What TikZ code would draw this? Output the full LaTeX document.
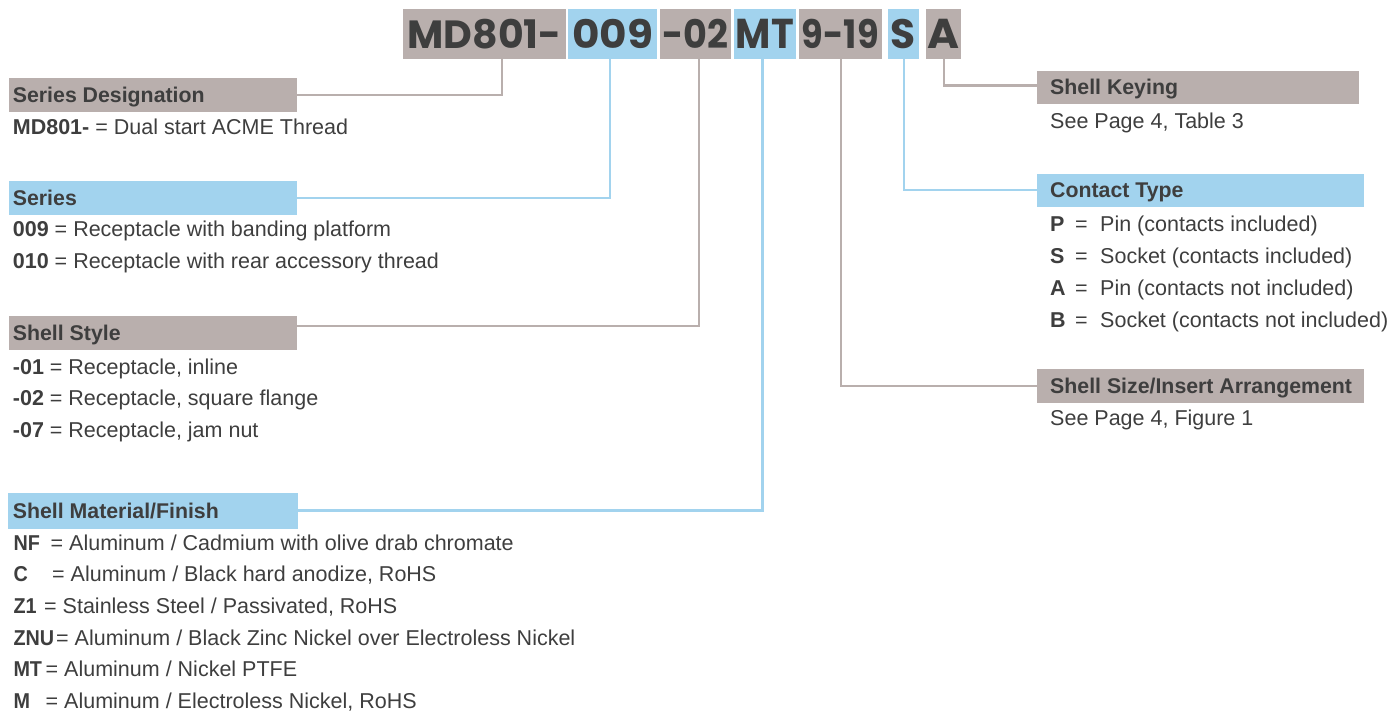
\documentclass[tikz,border=0pt]{standalone}
\usepackage{fontspec}
\setmainfont{Liberation Sans}
\newfontfamily\codefont{Poppins}
\definecolor{gbox}{RGB}{185,175,173}
\definecolor{bbox}{RGB}{162,211,238}
\definecolor{ink}{RGB}{62,62,62}
\newcommand{\hfnt}{\fontsize{21.3}{25}\selectfont\bfseries}
\newcommand{\bfnt}{\fontsize{21.5}{25}\selectfont}
\newcommand{\cz}[2]{\resizebox{#1pt}{29.3pt}{\codefont\bfseries #2}}
\newcommand{\mc}[1]{\scalebox{0.92}[1]{\textbf{#1}}}
\tikzset{
  codebox/.style={anchor=north west, inner sep=0pt, minimum height=49.7pt, text=ink},
  hbox/.style={anchor=north west, inner sep=0pt},
  htext/.style={anchor=west, inner sep=0pt, text height=15.2pt, text depth=0pt, font=\hfnt, text=ink},
  btext/.style={anchor=base west, inner sep=0pt, font=\bfnt, text=ink},
  gline/.style={draw=gbox, line width=2.4pt},
  bline/.style={draw=bbox, line width=2.4pt}
}
\begin{document}
\begin{tikzpicture}[x=1pt,y=-1pt]
\useasboundingbox (0,0) rectangle (1394,712);

% top code boxes
\node[codebox, fill=gbox, minimum width=162.7pt] (md) at (403,9) {\cz{154}{MD801-}};
\node[codebox, fill=bbox, minimum width=88.7pt] (s009) at (568,9) {\cz{81}{009}};
\node[codebox, fill=gbox, minimum width=70.7pt] (m02) at (660,9) {\cz{66}{-02}};
\node[codebox, fill=bbox, minimum width=62.7pt] (mt) at (733.3,9) {\cz{58}{MT}};
\node[codebox, fill=gbox, minimum width=83.7pt] (sz) at (798.3,9) {\cz{77}{9-19}};
\node[codebox, fill=bbox, minimum width=31.7pt] (cS) at (887.3,9) {\cz{25}{S}};
\node[codebox, fill=gbox, minimum width=35.4pt] (kA) at (925.3,9) {\cz{32}{A}};

% header boxes
\node[hbox, fill=gbox, minimum width=288pt, minimum height=33.7pt] (sd) at (9,78) {};
\node[hbox, fill=bbox, minimum width=288pt, minimum height=33.7pt] (ser) at (9,181) {};
\node[hbox, fill=gbox, minimum width=288pt, minimum height=34pt] (ss) at (9,316) {};
\node[hbox, fill=bbox, minimum width=290pt, minimum height=36pt] (smf) at (8,492.3) {};
\node[hbox, fill=gbox, minimum width=322pt, minimum height=33.4pt] (sk) at (1037,70.3) {};
\node[hbox, fill=bbox, minimum width=326.7pt, minimum height=33.4pt] (ct) at (1037,173.3) {};
\node[hbox, fill=gbox, minimum width=326.7pt, minimum height=33.7pt] (ssz) at (1037,369) {};

% connectors
\draw[gline] ([xshift=17.4pt]md.south) |- (sd.east);
\draw[bline] ([xshift=-2.3pt]s009.south) |- (ser.east);
\draw[gline] ([xshift=3.4pt]m02.south) |- ([yshift=7pt]ss.east);
\draw[bline] ([xshift=-2.3pt]mt.south) |- (smf.east);
\draw[gline] ([xshift=0.9pt]sz.south) |- (ssz.west);
\draw[bline] ([xshift=0.8pt]cS.south) |- (ct.west);
\draw[gline] ([xshift=0.7pt]kA.south) |- ([yshift=1.7pt]sk.west);

% header texts
\node[htext] (sdt) at ([xshift=3.7pt]sd.west) {Series Designation};
\node[htext] (sert) at ([xshift=3.7pt]ser.west) {Series};
\node[htext] (sst) at ([xshift=3.7pt]ss.west) {Shell Style};
\node[htext] (smft) at ([xshift=4.7pt]smf.west) {Shell Material/Finish};
\node[htext] (skt) at ([xshift=13pt]sk.west) {Shell Keying};
\node[htext] (ctt) at ([xshift=13pt]ct.west) {Contact Type};
\node[htext] (sszt) at ([xshift=13pt]ssz.west) {Shell Size/Insert Arrangement};

% left body
\node[btext] (b1) at (12.7,134) {\textbf{MD801-} = Dual start ACME Thread};
\node[btext] (b2) at (12.7,236.7) {\textbf{009} = Receptacle with banding platform};
\node[btext] (b3) at (12.7,268.3) {\textbf{010} = Receptacle with rear accessory thread};
\node[btext] (b4) at (12.7,374) {\textbf{-01} = Receptacle, inline};
\node[btext] (b5) at (12.7,405.7) {\textbf{-02} = Receptacle, square flange};
\node[btext] (b6) at (12.7,437.3) {\textbf{-07} = Receptacle, jam nut};

\node[btext] (m1c) at (13.3,550) {\mc{NF}};
\node[btext] (m1) at (50.5,550) {= Aluminum / Cadmium with olive drab chromate};
\node[btext] (m2c) at (13.3,581.7) {\mc{C}};
\node[btext] (m2) at (52,581.7) {= Aluminum / Black hard anodize, RoHS};
\node[btext] (m3c) at (13.3,613.3) {\mc{Z1}};
\node[btext] (m3) at (44,613.3) {= Stainless Steel / Passivated, RoHS};
\node[btext] (m4c) at (13.3,645) {\mc{ZNU}};
\node[btext] (m4) at (56,645) {= Aluminum / Black Zinc Nickel over Electroless Nickel};
\node[btext] (m5c) at (13.3,676.7) {\mc{MT}};
\node[btext] (m5) at (45.5,676.7) {= Aluminum / Nickel PTFE};
\node[btext] (m6c) at (13.3,708.3) {\mc{M}};
\node[btext] (m6) at (45.5,708.3) {= Aluminum / Electroless Nickel, RoHS};

% right body
\node[btext] (r1) at (1050,128.3) {See Page 4, Table 3};
\node[btext] (c1c) at (1050,231.7) {\textbf{P}};
\node[btext] (c1e) at (1075,231.7) {=};
\node[btext] (c1) at (1100,231.7) {Pin (contacts included)};
\node[btext] (c2c) at (1050,263.7) {\textbf{S}};
\node[btext] (c2e) at (1075,263.7) {=};
\node[btext] (c2) at (1100,263.7) {Socket (contacts included)};
\node[btext] (c3c) at (1050,295.7) {\textbf{A}};
\node[btext] (c3e) at (1075,295.7) {=};
\node[btext] (c3) at (1100,295.7) {Pin (contacts not included)};
\node[btext] (c4c) at (1050,327.7) {\textbf{B}};
\node[btext] (c4e) at (1075,327.7) {=};
\node[btext] (c4) at (1100,327.7) {Socket (contacts not included)};
\node[btext] (r2) at (1050,425) {See Page 4, Figure 1};
\end{tikzpicture}
\end{document}
